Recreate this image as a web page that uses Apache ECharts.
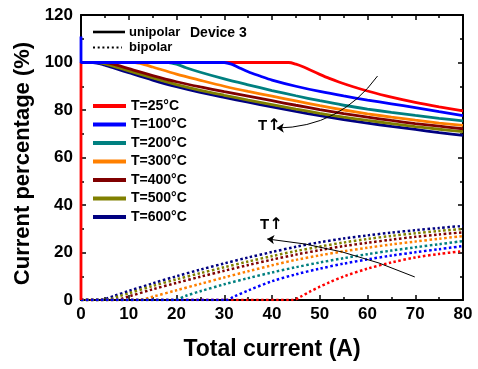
<!DOCTYPE html>
<html>
<head>
<meta charset="utf-8">
<script src="https://cdn.jsdelivr.net/npm/echarts@6/dist/echarts.min.js"></script>
<style>
  html, body { margin: 0; padding: 0; background: #fff; }
  #chart { width: 478px; height: 369px; }
</style>
</head>
<body>
<div id="chart"></div>
<script>
    const FONT = "'Liberation Sans', Arial, sans-serif";

    const temps = ['T=25°C', 'T=100°C', 'T=200°C', 'T=300°C', 'T=400°C', 'T=500°C', 'T=600°C'];
    const colors = ['#ff0000', '#0000ff', '#008080', '#ff8000', '#800000', '#808000', '#000080'];
    const xTicks = [0, 10, 20, 30, 40, 50, 60, 70, 80];
    const yTicks = [0, 20, 40, 60, 80, 100, 120];

    // unipolar current (%) vs total current (A)
    const uni25 = [[0, 0], [0, 100], [43.5, 100], [45, 99.3], [46.5, 98.2], [48, 96.8], [50, 95], [52, 93.3], [54, 91.8], [57, 89.8], [60, 88], [65, 85.4], [70, 83.2], [75, 81.3], [80, 79.6]];
    const uni100 = [[0, 111], [0, 100], [30, 100], [31.5, 99.3], [33, 97.9], [35, 96.1], [37.5, 94.3], [40, 92.6], [45, 90], [50, 87.8], [55, 85.9], [60, 84.2], [65, 82.6], [70, 81], [75, 79.3], [80, 77.6]];
    const uni200 = [[0, 100], [18.3, 100], [20, 99.3], [22, 97.8], [25, 95.9], [30, 93.1], [35, 90.6], [40, 88.2], [45, 86], [50, 83.9], [55, 82], [60, 80.4], [65, 79], [70, 77.7], [75, 76.5], [80, 75.4]];
    const uni300 = [[0, 100], [11.3, 100], [13.5, 99], [15, 98.1], [20, 95.1], [25, 92.5], [30, 90], [35, 87.8], [40, 85.8], [45, 83.8], [50, 81.8], [55, 80], [60, 78.4], [65, 77], [70, 75.7], [75, 74.5], [80, 73.5]];
    const uni400 = [[0, 100], [5, 100], [7.5, 98.9], [10, 97.4], [15, 94.5], [20, 91.9], [25, 89.7], [30, 87.7], [35, 85.8], [40, 83.9], [45, 82], [50, 80.2], [55, 78.5], [60, 77], [65, 75.6], [70, 74.3], [75, 73.2], [80, 72.1]];
    const uni500 = [[0, 100], [3.5, 100], [6, 98.9], [8, 97.7], [10, 96.5], [15, 93.5], [20, 90.7], [25, 88.3], [30, 86.2], [35, 84.2], [40, 82.3], [45, 80.4], [50, 78.6], [55, 77], [60, 75.6], [65, 74.3], [70, 73], [75, 71.9], [80, 70.9]];
    const uni600 = [[0, 100], [2.5, 100], [5, 98.9], [7.5, 97.3], [10, 95.7], [15, 92.6], [20, 89.8], [25, 87.4], [30, 85.3], [35, 83.3], [40, 81.3], [45, 79.4], [50, 77.6], [55, 76], [60, 74.5], [65, 73.1], [70, 71.8], [75, 70.5], [80, 69.3]];

    // bipolar current (%)
    const bi25 = [[0, 0], [44.5, 0], [46, 1.4], [48, 3.6], [50, 5.6], [52, 7.4], [55, 9.9], [60, 13.2], [65, 15.8], [70, 17.9], [75, 19.4], [80, 20.6]];
    const bi100 = [[0, 0], [30.5, 0], [32, 1.4], [35, 4], [40, 7.9], [45, 10.8], [50, 13.2], [55, 15.3], [60, 17.1], [65, 18.7], [70, 20.1], [75, 21.4], [80, 22.7]];
    const bi200 = [[0, 0], [19.5, 0], [22, 1.8], [25, 3.7], [30, 6.6], [35, 9.2], [40, 11.6], [45, 13.8], [50, 15.8], [55, 17.6], [60, 19.3], [65, 20.8], [70, 22.2], [75, 23.5], [80, 24.8]];
    const bi300 = [[0, 0], [12, 0], [15, 1.4], [20, 4.1], [25, 6.8], [30, 9.5], [35, 12.1], [40, 14.6], [45, 16.9], [50, 18.8], [55, 20.5], [60, 22], [65, 23.4], [70, 24.6], [75, 25.8], [80, 26.9]];
    const bi400 = [[0, 0], [7, 0], [10, 1.5], [15, 4.5], [20, 7.2], [25, 9.8], [30, 12.3], [35, 14.7], [40, 17], [45, 19.1], [50, 21], [55, 22.7], [60, 24.1], [65, 25.4], [70, 26.6], [75, 27.6], [80, 28.5]];
    const bi500 = [[0, 0], [5, 0], [8, 1.6], [10, 2.8], [15, 5.9], [20, 8.7], [25, 11.3], [30, 13.8], [35, 16.2], [40, 18.5], [45, 20.6], [50, 22.5], [55, 24.2], [60, 25.7], [65, 27], [70, 28.1], [75, 29.1], [80, 29.9]];
    const bi600 = [[0, 0], [4, 0], [7, 1.8], [10, 3.8], [15, 7], [20, 10], [25, 12.8], [30, 15.4], [35, 17.9], [40, 20.2], [45, 22.4], [50, 24.3], [55, 25.9], [60, 27.2], [65, 28.4], [70, 29.4], [75, 30.3], [80, 31.2]];

    // "T increases" arrows, in data units
    const arrowUni = [[62.1, 94.3], [41.0, 72.4]];
    const arrowBi = [[69.9, 9.7], [39.0, 25.7]];

    const uni = [uni25, uni100, uni200, uni300, uni400, uni500, uni600];
    const bi = [bi25, bi100, bi200, bi300, bi400, bi500, bi600];

    let myChart = echarts.init(document.getElementById('chart'));

    function lineSeries(i, data, dotted) {
        return {
            name: temps[i],
            type: 'line',
            data: data,
            color: colors[i],
            showSymbol: false,
            symbol: 'none',
            smooth: 0.3,
            animation: false,
            lineStyle: {
                color: colors[i],
                width: dotted ? 2.5 : 2.8,
                type: dotted ? [2.5, 2.5] : 'solid',
                cap: 'butt'
            }
        };
    }

    // blue drawn last so it sits on top of the flat 100% part
    const order = [0, 6, 5, 4, 3, 2, 1];
    let series = [];
    order.forEach(i => series.push(lineSeries(i, bi[i], true)));
    order.forEach(i => series.push(lineSeries(i, uni[i], false)));

    series.push({
        type: 'lines',
        coordinateSystem: 'cartesian2d',
        polyline: false,
        symbol: ['none', 'arrow'],
        symbolSize: 7,
        animation: false,
        silent: true,
        lineStyle: { color: '#000', width: 1, opacity: 1 },
        data: [
            { coords: arrowUni, lineStyle: { curveness: 0.25 } },
            { coords: arrowBi, lineStyle: { curveness: -0.08 } }
        ],
        z: 5
    });

    function axisBase(extra) {
        return Object.assign({
            type: 'value',
            splitLine: { show: false },
            axisLine: { show: true, onZero: false, lineStyle: { color: '#000', width: 2 } },
            axisTick: { show: true, inside: true, length: 5, lineStyle: { color: '#000', width: 1.5 } },
            minorTick: { show: true, splitNumber: 2, length: 3, lineStyle: { color: '#000', width: 1.5 } },
            axisLabel: { show: false }
        }, extra);
    }

    const labelStyle = { show: true, color: '#000', fontFamily: FONT, fontWeight: 'bold', fontSize: 17 };
    const nameStyle = { color: '#000', fontFamily: FONT, fontWeight: 'bold', fontSize: 22 };

    const tText = {
        text: '{t|T}{a|↑}',
        rich: {
            t: { font: 'bold 15px ' + FONT, fill: '#000' },
            a: { font: 'bold 16px "DejaVu Sans"', fill: '#000' }
        },
        verticalAlign: 'middle'
    };

    myChart.setOption({
        animation: false,
        backgroundColor: '#fff',
        grid: { left: 81, right: 15, top: 15, bottom: 69 },
        xAxis: [
            axisBase({
                min: xTicks[0], max: xTicks[xTicks.length - 1], interval: 10, position: 'bottom',
                axisLabel: Object.assign({ margin: 6 }, labelStyle),
                name: 'Total current (A)', nameLocation: 'middle', nameGap: 38,
                nameTextStyle: Object.assign({}, nameStyle, { fontSize: 23 })
            }),
            axisBase({ min: xTicks[0], max: xTicks[xTicks.length - 1], interval: 10, position: 'top' })
        ],
        yAxis: [
            axisBase({
                min: yTicks[0], max: yTicks[yTicks.length - 1], interval: 20, position: 'left',
                axisLabel: Object.assign({ margin: 8 }, labelStyle),
                name: 'Current percentage (%)', nameLocation: 'middle', nameGap: 42,
                nameTextStyle: Object.assign({ padding: [0, 12, 0, 0] }, nameStyle)
            }),
            axisBase({ min: yTicks[0], max: yTicks[yTicks.length - 1], interval: 20, position: 'right' })
        ],
        legend: {
            data: temps,
            orient: 'vertical',
            left: 93,
            top: 98,
            icon: 'rect',
            itemWidth: 33,
            itemHeight: 4,
            itemGap: 2.5,
            selectedMode: false,
            padding: 0,
            textStyle: { color: '#000', fontFamily: FONT, fontWeight: 'bold', fontSize: 14, lineHeight: 16 }
        },
        graphic: [
            { type: 'line', shape: { x1: 93, y1: 32, x2: 125, y2: 32 }, style: { stroke: '#000', lineWidth: 2.6 } },
            { type: 'line', shape: { x1: 93, y1: 47.5, x2: 122, y2: 47.5 }, style: { stroke: '#000', lineWidth: 2, lineDash: [2, 2.7] } },
            { type: 'text', x: 129, y: 32, style: { text: 'unipolar', font: 'bold 13px ' + FONT, fill: '#000', verticalAlign: 'middle' } },
            { type: 'text', x: 129, y: 47.5, style: { text: 'bipolar', font: 'bold 13px ' + FONT, fill: '#000', verticalAlign: 'middle' } },
            { type: 'text', x: 190, y: 33, style: { text: 'Device 3', font: 'bold 14px ' + FONT, fill: '#000', verticalAlign: 'middle' } },
            { type: 'text', x: 258, y: 126, style: tText },
            { type: 'text', x: 260, y: 225, style: tText }
        ],
        series: series
    });
</script>
</body>
</html>
